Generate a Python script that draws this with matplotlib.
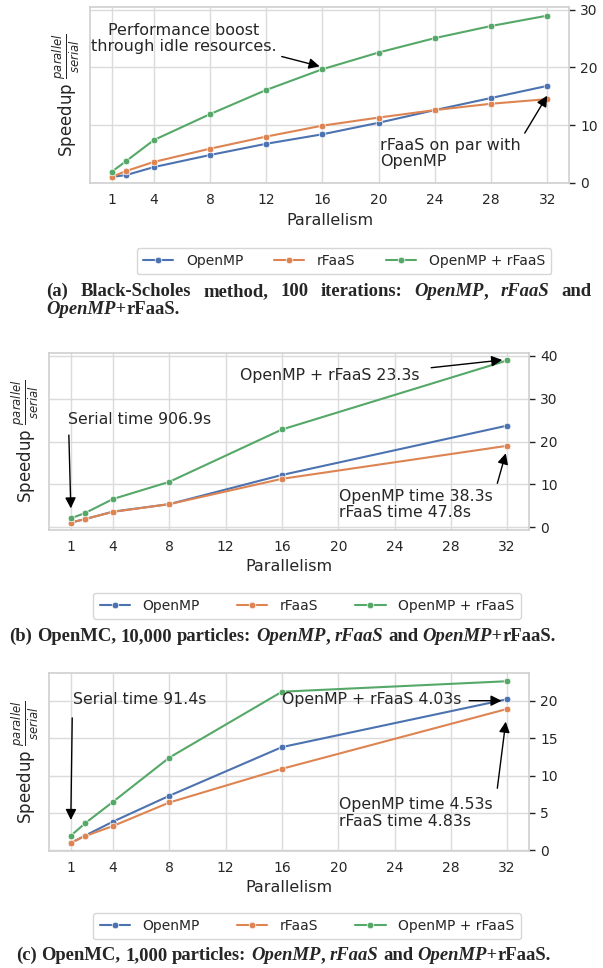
import matplotlib
matplotlib.use("Agg")
import matplotlib.pyplot as plt
import seaborn as sns

# series names and colours (seaborn "deep")
NAMES = ["OpenMP", "rFaaS", "OpenMP + rFaaS"]
COLORS = ["#4c72b0", "#dd8452", "#55a868"]
XTICKS = [1, 4, 8, 12, 16, 20, 24, 28, 32]

# (a) Black-Scholes, 100 iterations
BS_X = [1, 2, 4, 8, 12, 16, 20, 24, 28, 32]
BS_OMP = [1.0, 1.3, 2.7, 4.8, 6.75, 8.4, 10.4, 12.6, 14.7, 16.8]
BS_RFAAS = [1.0, 2.0, 3.6, 5.9, 8.0, 9.9, 11.3, 12.6, 13.7, 14.5]
BS_BOTH = [1.9, 3.7, 7.4, 11.9, 16.1, 19.7, 22.6, 25.1, 27.2, 29.0]

# (b) OpenMC, 10,000 particles
MC_X = [1, 2, 4, 8, 16, 32]
MC10K_OMP = [1.1, 1.9, 3.65, 5.4, 12.2, 23.7]
MC10K_RFAAS = [1.1, 1.9, 3.6, 5.4, 11.3, 19.0]
MC10K_BOTH = [2.1, 3.3, 6.6, 10.6, 22.8, 38.9]

# (c) OpenMC, 1,000 particles
MC1K_OMP = [1.0, 1.96, 3.85, 7.3, 13.8, 20.2]
MC1K_RFAAS = [1.0, 1.9, 3.26, 6.4, 10.9, 18.9]
MC1K_BOTH = [1.96, 3.6, 6.5, 12.4, 21.2, 22.6]

W, H = 603, 968

sns.set_theme(style="whitegrid", palette="deep")
plt.rcParams.update({
    "font.family": ["DejaVu Sans"],
    "ytick.major.size": 4.5, "ytick.major.width": 1, "ytick.color": ".15",
    "xtick.major.size": 0, "xtick.major.pad": 7,
    "xtick.labelsize": 10, "ytick.labelsize": 10,
    "axes.edgecolor": ".82", "grid.color": ".86",
})

fig = plt.figure(figsize=(W / 100, H / 100), dpi=100)
rend = fig.canvas.get_renderer()
ARROW = dict(arrowstyle="-|>", color="black", lw=1, mutation_scale=16,
             shrinkA=0, shrinkB=0)


def panel(rect, x, series, ylim, yticks, legend_at, colspace):
    ax = fig.add_axes(rect)
    for name, vals, c in zip(NAMES, series, COLORS):
        ax.plot(x, vals, marker="o", ms=4.8, lw=1.5, color=c,
                mec="white", mew=0.5, label=name)
    ax.set_xlim(-0.55, 33.55)
    ax.set_ylim(*ylim)
    ax.set_xticks(XTICKS)
    ax.set_yticks(yticks)
    ax.yaxis.tick_right()
    ax.yaxis.set_label_position("left")
    ax.set_xlabel("Parallelism", fontsize=11.5)
    ax.set_ylabel(r"Speedup $\frac{parallel}{serial}$", fontsize=12, labelpad=5)
    ax.legend(loc="upper center", bbox_to_anchor=legend_at,
              bbox_transform=fig.transFigure, ncol=3, fontsize=10,
              handlelength=2.2, handletextpad=0.9, columnspacing=colspace,
              borderpad=0.45, frameon=True)
    return ax


STYLE = {"b": dict(family="Liberation Serif", weight="bold"),
         "bi": dict(family="Liberation Serif", weight="bold", style="italic")}


def width_of(s, style, size):
    t = fig.text(0, 0, s, fontsize=size, **STYLE[style])
    w = t.get_window_extent(rend).width
    t.remove()
    return w


def caption(x0, base, words, size, width=None):
    # words: list of words, each a list of (text, style) runs
    ww = [sum(width_of(s, st, size) for s, st in w) for w in words]
    gap = width_of("x x", "b", size) - width_of("xx", "b", size)
    if width is not None:
        gap = (width - sum(ww)) / (len(words) - 1)
    x = x0
    for w, wid in zip(words, ww):
        xr = x
        for s, st in w:
            fig.text(xr / W, 1 - base / H, s, fontsize=size, va="baseline",
                     ha="left", **STYLE[st])
            xr += width_of(s, st, size)
        x += wid + gap


CAP_A1 = [[("(a)", "b")], [("Black-Scholes", "b")], [("method,", "b")],
          [("100", "b")], [("iterations:", "b")],
          [("OpenMP", "bi"), (",", "b")], [("rFaaS", "bi")], [("and", "b")]]
CAP_A2 = [[("OpenMP+", "bi"), ("rFaaS.", "b")]]
CAP_B = [[("(b)", "b")], [("OpenMC,", "b")], [("10,000", "b")],
         [("particles:", "b")], [("OpenMP", "bi"), (",", "b")],
         [("rFaaS", "bi")], [("and", "b")], [("OpenMP+", "bi"), ("rFaaS.", "b")]]
CAP_C = [[("(c)", "b")], [("OpenMC,", "b")], [("1,000", "b")],
         [("particles:", "b")], [("OpenMP", "bi"), (",", "b")],
         [("rFaaS", "bi")], [("and", "b")], [("OpenMP+", "bi"), ("rFaaS.", "b")]]

# --- (a)
ax = panel([90 / W, 1 - 183.5 / H, 479 / W, 176.2 / H], BS_X,
           [BS_OMP, BS_RFAAS, BS_BOTH], (-0.15, 30.45), [0, 10, 20, 30],
           (344 / W, 1 - 241 / H), 2.2)
ax.text(6.1, 25.1, "Performance boost\nthrough idle resources.", fontsize=11.5,
        ha="center", va="center", linespacing=1.1)
ax.annotate("", xy=(15.8, 20.2), xytext=(13.1, 21.9), arrowprops=ARROW)
ax.text(20.1, 5.0, "rFaaS on par with\nOpenMP", fontsize=11.5, ha="left",
        va="center", linespacing=1.1)
ax.annotate("", xy=(32.0, 15.1), xytext=(30.4, 8.6), arrowprops=ARROW)

# --- (b)
ax = panel([49 / W, 1 - 530 / H, 480 / W, 177 / H], MC_X,
           [MC10K_OMP, MC10K_RFAAS, MC10K_BOTH], (-0.63, 40.63),
           [0, 10, 20, 30, 40], (307 / W, 1 - 585.7 / H), 2.65)
ax.text(13.0, 35.3, "OpenMP + rFaaS 23.3s", fontsize=11.3, ha="left", va="center")
ax.annotate("", xy=(31.65, 39.0), xytext=(26.6, 37.2), arrowprops=ARROW)
ax.text(0.81, 25.2, "Serial time 906.9s", fontsize=11.3, ha="left", va="center")
ax.annotate("", xy=(1.0, 4.4), xytext=(0.86, 21.5), arrowprops=ARROW)
ax.text(20.05, 5.4, "OpenMP time 38.3s\nrFaaS time 47.8s", fontsize=11.3,
        ha="left", va="center", linespacing=1.1)
ax.annotate("", xy=(31.9, 17.25), xytext=(31.3, 10.25), arrowprops=ARROW)

# --- (c)
ax = panel([49 / W, 1 - 851 / H, 480 / W, 178 / H], MC_X,
           [MC1K_OMP, MC1K_RFAAS, MC1K_BOTH], (-0.08, 23.7),
           [0, 5, 10, 15, 20], (307 / W, 1 - 906 / H), 2.65)
ax.text(1.19, 20.1, "Serial time 91.4s", fontsize=11.3, ha="left", va="center")
ax.annotate("", xy=(1.0, 4.06), xytext=(1.1, 17.7), arrowprops=ARROW)
ax.text(16.0, 20.1, "OpenMP + rFaaS 4.03s", fontsize=11.3, ha="left", va="center")
ax.annotate("", xy=(31.6, 20.0), xytext=(29.3, 20.0), arrowprops=ARROW)
ax.text(20.05, 5.0, "OpenMP time 4.53s\nrFaaS time 4.83s", fontsize=11.3,
        ha="left", va="center", linespacing=1.1)
ax.annotate("", xy=(31.9, 17.2), xytext=(31.3, 8.3), arrowprops=ARROW)

# --- captions, sized so caption (b) spans its width in the reference
nat = sum(sum(width_of(s, st, 10) for s, st in w) for w in CAP_B) \
    + (len(CAP_B) - 1) * (width_of("x x", "b", 10) - width_of("xx", "b", 10))
cap_size = 10 * 549 / nat
caption(46.5, 296, CAP_A1, cap_size, width=545)
caption(46.5, 314, CAP_A2, cap_size)
caption(9.5, 641, CAP_B, cap_size)
caption(16, 960, CAP_C, cap_size)

fig.savefig("out.png", dpi=100)
